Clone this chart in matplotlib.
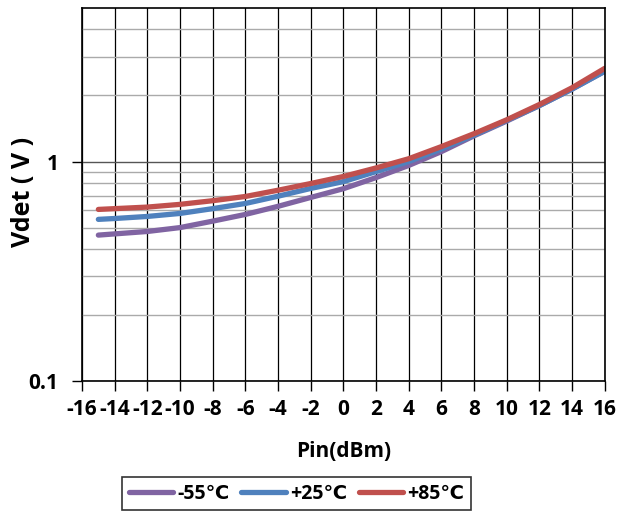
import matplotlib
matplotlib.use("Agg")
import matplotlib.pyplot as plt
from matplotlib.ticker import FixedLocator, NullFormatter

plt.rcParams['font.family'] = ['Open Sans', 'DejaVu Sans']
plt.rcParams['font.weight'] = 'bold'

# Data
pin = [-15, -14, -12, -10, -8, -6, -4, -2, 0, 2, 4, 6, 8, 10, 12, 14, 16]
v_m55 = [0.462, 0.468, 0.48, 0.50, 0.535, 0.574, 0.625, 0.686, 0.752, 0.845, 0.96, 1.11, 1.31, 1.53, 1.80, 2.14, 2.58]
v_p25 = [0.545, 0.55, 0.562, 0.58, 0.61, 0.644, 0.695, 0.754, 0.81, 0.90, 1.0, 1.14, 1.32, 1.54, 1.80, 2.14, 2.58]
v_p85 = [0.605, 0.61, 0.62, 0.638, 0.663, 0.693, 0.74, 0.794, 0.855, 0.935, 1.03, 1.17, 1.34, 1.55, 1.82, 2.17, 2.66]
labels = ["-55\u2103", "+25\u2103", "+85\u2103"]
colors = ["#8064A2", "#4F81BD", "#C0504D"]
xticks = list(range(-16, 17, 2))

fig = plt.figure(figsize=(6.19, 5.12), dpi=100)
ax = fig.add_axes([0.1325, 0.256, 0.8445, 0.728])

for y, lab, c in zip([v_m55, v_p25, v_p85], labels, colors):
    ax.plot(pin, y, color=c, linewidth=3.8, label=lab, solid_capstyle='round')

ax.set_yscale('log')
ax.set_ylim(0.1, 5)
ax.set_xlim(-16, 16)
ax.set_xticks(xticks)
ax.set_xticklabels([str(t) for t in xticks], fontsize=15, fontweight='bold')
ax.set_yticks([0.1, 1])
ax.set_yticklabels(["0.1", "1"], fontsize=15, fontweight='bold')
ax.yaxis.set_minor_locator(FixedLocator([0.2, 0.3, 0.4, 0.5, 0.6, 0.7, 0.8, 0.9, 2, 3, 4]))
ax.yaxis.set_minor_formatter(NullFormatter())
ax.tick_params(axis='y', which='minor', length=0)
ax.tick_params(axis='both', which='major', direction='out', length=7, width=1, color='black')
ax.tick_params(axis='x', which='major', pad=6)
ax.tick_params(axis='y', which='major', pad=10)

ax.grid(True, axis='x', which='major', color='black', linewidth=0.9)
ax.grid(True, axis='y', which='major', color='#555555', linewidth=1.0)
ax.grid(True, axis='y', which='minor', color='#aaaaaa', linewidth=1.0)
ax.set_axisbelow(True)
for s in ax.spines.values():
    s.set_color('black')
    s.set_linewidth(1.2)

ax.set_xlabel("Pin(dBm)", fontsize=15, fontweight='bold', labelpad=15)
fig.text(23 / 619, 1 - 192 / 512, "Vdet ( V )", rotation=90, ha='center', va='center',
         fontsize=18, fontweight='bold')

leg = fig.legend(loc='center', bbox_to_anchor=(0.479, 0.036), ncol=3, frameon=True,
                 fancybox=False, edgecolor='black', fontsize=14, handlelength=2.3,
                 handletextpad=0.2, columnspacing=0.6, borderpad=0.35)
leg.get_frame().set_linewidth(1.2)
for t in leg.get_texts():
    t.set_fontweight('bold')

fig.savefig("out.png", dpi=100)
